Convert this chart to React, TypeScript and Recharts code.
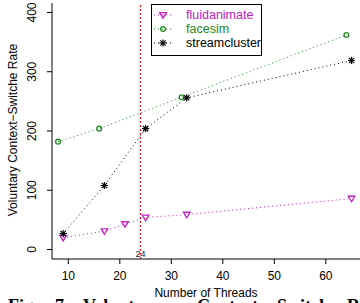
import React from "react";
import {
  LineChart,
  Line,
  XAxis,
  YAxis,
  Legend,
  ReferenceLine,
} from "recharts";

const fluidThreads = [9, 17, 21, 25, 33, 65];
const fluidValues = [20, 31, 43, 54, 59, 86];
const faceThreads = [8, 16, 32, 64];
const faceValues = [182, 204, 257, 362];
const streamThreads = [9, 17, 25, 33, 65];
const streamValues = [27, 108, 204, 256, 319];

const xTicks = [10, 20, 30, 40, 50, 60];
const yTicks = [0, 100, 200, 300, 400];
const markerThreads = 24;

// caption words, cut off by the bottom of the picture
const captionWords = ["Fig.", "7:", "Voluntary", "Context", "Switch", "Rate"];
const captionLefts = [8, 55, 83, 197, 277, 347];

const MAGENTA = "#c020c0";
const GREEN = "#228B22";
const BLACK = "#000000";

const toPoints = (xs: number[], ys: number[]) =>
  xs.map((x, i) => ({ x, y: ys[i] }));

const fluidData = toPoints(fluidThreads, fluidValues);
const faceData = toPoints(faceThreads, faceValues);
const streamData = toPoints(streamThreads, streamValues);

const Triangle = ({ cx, cy, color }: any) => (
  <path
    d={`M${cx - 3.3},${cy - 2.3} L${cx + 3.3},${cy - 2.3} L${cx},${cy + 3.2} Z`}
    fill="none"
    stroke={color}
    strokeWidth={1.3}
  />
);

const Circle = ({ cx, cy, color }: any) => (
  <circle cx={cx} cy={cy} r={2.4} fill="none" stroke={color} strokeWidth={1.3} />
);

const Star = ({ cx, cy, color }: any) => {
  const r = 3.6;
  const d = r * 0.72;
  return (
    <g stroke={color} strokeWidth={1.2}>
      <line x1={cx - r} y1={cy} x2={cx + r} y2={cy} />
      <line x1={cx} y1={cy - r} x2={cx} y2={cy + r} />
      <line x1={cx - d} y1={cy - d} x2={cx + d} y2={cy + d} />
      <line x1={cx - d} y1={cy + d} x2={cx + d} y2={cy - d} />
    </g>
  );
};

const legendItems = [
  { name: "fluidanimate", color: MAGENTA, Marker: Triangle },
  { name: "facesim", color: GREEN, Marker: Circle },
  { name: "streamcluster", color: BLACK, Marker: Star },
];

const renderLegend = () => (
  <svg width={111} height={52}>
    <rect x={0.5} y={0.5} width={110} height={51} fill="#fff" stroke="#000" />
    {legendItems.map((item, i) => {
      const cy = 11 + i * 14;
      return (
        <g key={item.name}>
          <line
            x1={3}
            y1={cy}
            x2={22}
            y2={cy}
            stroke={item.color}
            strokeDasharray="1 3"
          />
          <item.Marker cx={12} cy={cy} color={item.color} />
          <text
            x={35}
            y={cy}
            dominantBaseline="central"
            fontSize={12.5}
            fill={item.color}
          >
            {item.name}
          </text>
        </g>
      );
    })}
  </svg>
);

const YTick = ({ y, payload }: any) => (
  <text
    x={32}
    y={y}
    transform={`rotate(-90, 32, ${y})`}
    textAnchor="middle"
    dominantBaseline="central"
    fontSize={12}
    fill="#000"
  >
    {payload.value}
  </text>
);

export default function App() {
  return (
    <div
      style={{
        position: "fixed",
        left: 0,
        top: 0,
        width: 360,
        height: 303,
        overflow: "hidden",
        background: "#fff",
        fontFamily: "'Liberation Sans', Arial, sans-serif",
      }}
    >
      <LineChart
        width={360}
        height={303}
        margin={{ top: 3, right: 0, bottom: 0, left: 0 }}
      >
        <XAxis
          type="number"
          dataKey="x"
          domain={[6.83, 66.64]}
          allowDataOverflow
          ticks={xTicks}
          height={44}
          tickSize={5}
          tickMargin={7}
          stroke="#000"
          tick={{ fill: "#000", fontSize: 12 }}
          label={{
            content: () => (
              <text x={206} y={296.5} textAnchor="middle" fontSize={12} fill="#000">
                Number of Threads
              </text>
            ),
          }}
        />
        <XAxis
          xAxisId="top"
          orientation="top"
          type="number"
          dataKey="x"
          domain={[6.83, 66.64]}
          allowDataOverflow
          height={0}
          tick={false}
          tickLine={false}
          stroke="#000"
        />
        <YAxis
          type="number"
          dataKey="y"
          domain={[-16, 416]}
          allowDataOverflow
          ticks={yTicks}
          width={52}
          tickSize={5}
          stroke="#000"
          tick={<YTick />}
          label={{
            content: () => (
              <text
                x={13}
                y={130}
                transform="rotate(-90, 13, 130)"
                textAnchor="middle"
                dominantBaseline="central"
                fontSize={12}
                fill="#000"
              >
                Voluntary Context−Switche Rate
              </text>
            ),
          }}
        />
        <ReferenceLine
          x={markerThreads}
          stroke="#ff0000"
          strokeDasharray="2 2"
          label={{
            content: (props: any) => (
              <text
                x={props.viewBox.x}
                y={254}
                textAnchor="middle"
                dominantBaseline="central"
                fontSize={9}
                fill="#222"
              >
                {markerThreads}
              </text>
            ),
          }}
        />
        <Legend
          layout="vertical"
          align="center"
          verticalAlign="middle"
          content={renderLegend}
          wrapperStyle={{ position: "absolute", left: 151, top: 4, width: 111, height: 52 }}
        />
        <Line
          data={fluidData}
          dataKey="y"
          name="fluidanimate"
          stroke={MAGENTA}
          strokeDasharray="1 3"
          dot={(p: any) => <Triangle key={p.index} cx={p.cx} cy={p.cy} color={MAGENTA} />}
          isAnimationActive={false}
        />
        <Line
          data={faceData}
          dataKey="y"
          name="facesim"
          stroke={GREEN}
          strokeDasharray="1 3"
          dot={(p: any) => <Circle key={p.index} cx={p.cx} cy={p.cy} color={GREEN} />}
          isAnimationActive={false}
        />
        <Line
          data={streamData}
          dataKey="y"
          name="streamcluster"
          stroke={BLACK}
          strokeDasharray="1 3"
          dot={(p: any) => <Star key={p.index} cx={p.cx} cy={p.cy} color={BLACK} />}
          isAnimationActive={false}
        />
      </LineChart>
      {captionWords.map((w, i) => (
        <div
          key={w}
          style={{
            position: "absolute",
            left: captionLefts[i],
            top: 296,
            whiteSpace: "nowrap",
            fontFamily: "'Liberation Serif', 'Times New Roman', serif",
            fontWeight: "bold",
            fontSize: 18,
          }}
        >
          {w}
        </div>
      ))}
    </div>
  );
}
